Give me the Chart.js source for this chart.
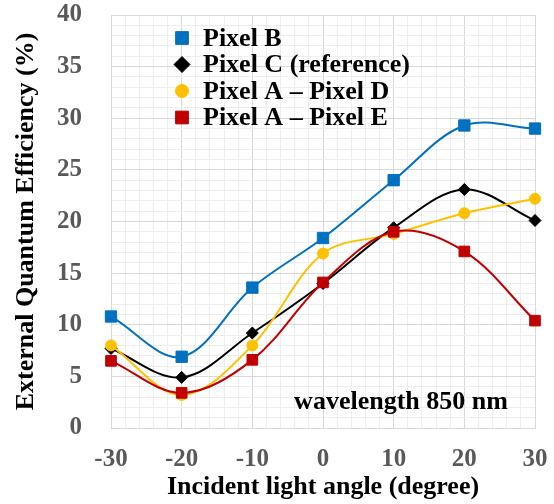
<!DOCTYPE html>
<html>
<head>
<meta charset="utf-8">
<script src="https://cdn.jsdelivr.net/npm/chart.js@4.4.1/dist/chart.umd.min.js"></script>
<style>
  html, body { margin: 0; padding: 0; background: #fff; }
  #wrap { width: 554px; height: 504px; position: relative; }
</style>
</head>
<body>
<div id="wrap"><canvas id="chart"></canvas></div>
<script>
/* ──────── DATA ──────── */

const ANGLES = [-30, -20, -10, 0, 10, 20, 30];
const PIXEL_B = [10.8, 6.9, 13.6, 18.4, 24.0, 29.3, 29.0];
const PIXEL_C = [7.7, 4.9, 9.2, 14.0, 19.4, 23.1, 20.1];
const PIXEL_AD = [8.0, 3.2, 8.0, 16.9, 18.8, 20.8, 22.2];
const PIXEL_AE = [6.5, 3.4, 6.6, 14.1, 19.0, 17.1, 10.4];
const SERIES_NAMES = ['Pixel B', 'Pixel C (reference)', 'Pixel A \u2013 Pixel D', 'Pixel A \u2013 Pixel E'];
const NOTE = 'wavelength 850 nm';

/* ──────── STYLE ──────── */

const FONT = '"Liberation Serif", "Times New Roman", serif';
const BLUE = '#0070c0';
const BLACK = '#000000';
const YELLOW = '#ffc000';
const RED = '#c00000';
const GRID_MAJOR = '#d9d9d9';
const GRID_MINOR = '#eeeeee';

function toPoints(values) {
  return values.map((v, i) => ({ x: ANGLES[i], y: v }));
}

function series(label, values, color, style, radius, order) {
  return {
    label,
    data: toPoints(values),
    borderColor: color,
    backgroundColor: color,
    pointBackgroundColor: color,
    pointBorderColor: color,
    pointStyle: style,
    pointRadius: radius,
    pointBorderWidth: 1,
    borderWidth: 2,
    tension: 0.35,
    clip: false,
    order,
  };
}

// legend marker sizes (a bit bigger than plot markers)
const LEGEND_RADIUS = [9, 8, 6.5, 9];

/* ──────── PLUGINS ──────── */

const insideLegend = {
  id: 'insideLegend',
  afterDraw(chart) {
    const { ctx, chartArea } = chart;
    const x0 = chartArea.left + 71;
    const y0 = chartArea.top + 23;
    ctx.save();
    ctx.font = `bold 26px ${FONT}`;
    ctx.textBaseline = 'middle';
    ctx.textAlign = 'left';
    chart.data.datasets.forEach((ds, i) => {
      const y = y0 + i * 26.5;
      ctx.fillStyle = ds.pointBackgroundColor;
      ctx.strokeStyle = ds.pointBorderColor;
      ctx.lineWidth = 1;
      Chart.helpers.drawPoint(ctx, {
        pointStyle: ds.pointStyle, radius: LEGEND_RADIUS[i], rotation: 0, borderWidth: 1
      }, x0, y);
      ctx.fillStyle = '#000';
      ctx.fillText(SERIES_NAMES[i], x0 + 21, y + 1);
    });
    // wavelength note
    ctx.textAlign = 'center';
    ctx.fillText(NOTE, chartArea.right - 134, chartArea.bottom - 26);
    ctx.restore();
  }
};

/* ──────── CHART ──────── */

const ctx = document.getElementById('chart').getContext('2d');
new Chart(ctx, {
  type: 'line',
  data: {
    datasets: [
      series(SERIES_NAMES[0], PIXEL_B, BLUE, 'rect', 8, 3),
      series(SERIES_NAMES[1], PIXEL_C, BLACK, 'rectRot', 6, 2),
      series(SERIES_NAMES[2], PIXEL_AD, YELLOW, 'circle', 5.5, 1),
      series(SERIES_NAMES[3], PIXEL_AE, RED, 'rect', 7.5, 0),
    ]
  },
  options: {
    responsive: true,
    maintainAspectRatio: false,
    animation: false,
    layout: { padding: { left: 0, right: 19, top: 15, bottom: 0 }, autoPadding: false },
    plugins: {
      legend: { display: false },
      tooltip: { enabled: false },
    },
    scales: {
      x: {
        type: 'linear',
        min: -30,
        max: 30,
        afterFit: (s) => { s.height = 76; s.paddingLeft = 0; s.paddingRight = 0; },
        ticks: {
          stepSize: 2,
          autoSkip: false,
          maxRotation: 0,
          padding: 17,
          color: '#595959',
          font: { family: FONT, size: 25, weight: 'bold' },
          callback: (v) => (v % 10 === 0 ? v : ''),
        },
        grid: {
          drawTicks: false,
          color: (c) => (c.tick && c.tick.value % 10 === 0 ? GRID_MAJOR : GRID_MINOR),
          lineWidth: 1,
        },
        border: { color: GRID_MAJOR },
        title: {
          display: true,
          text: 'Incident light angle (degree)',
          color: '#000',
          font: { family: FONT, size: 26, weight: 'bold' },
          padding: { top: 0, bottom: 1 },
        },
      },
      y: {
        min: 0,
        max: 40,
        afterFit: (s) => { s.width = 111; s.paddingTop = 0; s.paddingBottom = 0; },
        ticks: {
          stepSize: 1,
          autoSkip: false,
          padding: 29,
          color: '#595959',
          font: { family: FONT, size: 25, weight: 'bold' },
          callback: (v) => (v % 5 === 0 ? v : ''),
        },
        grid: {
          drawTicks: false,
          color: (c) => (c.tick && c.tick.value % 5 === 0 ? GRID_MAJOR : GRID_MINOR),
          lineWidth: 1,
        },
        border: { color: GRID_MAJOR },
        title: {
          display: true,
          text: 'External Quantum Efficiency (%)',
          color: '#000',
          font: { family: FONT, size: 26, weight: 'bold' },
          padding: { top: 11, bottom: 0 },
        },
      },
    },
  },
  plugins: [insideLegend],
});
</script>
</body>
</html>
